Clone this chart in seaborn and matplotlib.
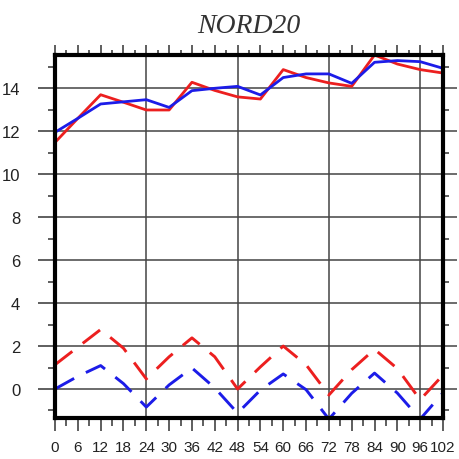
import numpy as np
import pandas as pd
import matplotlib
matplotlib.use("Agg")
import matplotlib.pyplot as plt
import seaborn as sns
from matplotlib.ticker import MultipleLocator

# forecast hours and the four series
hours = [0, 6, 12, 18, 24, 30, 36, 42, 48, 54, 60, 66, 72, 78, 84, 90, 96, 102]
red_solid = [11.48, 12.6, 13.70, 13.35, 12.99, 12.99, 14.28, 13.9, 13.6,
             13.5, 14.87, 14.5, 14.25, 14.09, 15.55, 15.13, 14.87, 14.71]
blue_solid = [11.95, 12.6, 13.27, 13.37, 13.47, 13.11, 13.89, 14.0, 14.09,
              13.69, 14.5, 14.67, 14.67, 14.23, 15.21, 15.29, 15.24, 14.93]
red_dash = [1.13, 1.95, 2.77, 1.9, 0.47, 1.5, 2.38, 1.5, 0.0,
            1.03, 2.0, 1.13, -0.28, 0.9, 1.85, 0.95, -0.5, 0.65]
blue_dash = [0.0, 0.59, 1.09, 0.25, -0.84, 0.19, 0.98, 0.05, -1.12,
             -0.05, 0.7, -0.03, -1.4, -0.2, 0.74, -0.19, -1.4, -0.18]

sns.set_style("white")
plt.rcParams['font.family'] = ['Liberation Sans', 'DejaVu Sans']

RED = '#ec1f1f'
BLUE = '#1c1ce8'
GRID = '#444444'

fig = plt.figure(figsize=(4.6, 4.6), dpi=100)
ax = fig.add_axes([55/460, 41/460, 388/460, 363/460])

dash = (0, (7.5, 4.5))
sns.lineplot(x=hours, y=red_solid, color=RED, lw=2.0, ax=ax)
sns.lineplot(x=hours, y=blue_solid, color=BLUE, lw=2.0, ax=ax)
sns.lineplot(x=hours, y=red_dash, color=RED, lw=2.1, linestyle=dash, ax=ax)
sns.lineplot(x=hours, y=blue_dash, color=BLUE, lw=2.1, linestyle=dash, ax=ax)

ax.set_xlim(0, 102)
ax.set_ylim(-1.35, 15.55)

# grid: horizontal every 2, vertical every 24
for yv in range(0, 16, 2):
    ax.axhline(yv, color=GRID, lw=1.1, zorder=0)
for xv in [24, 48, 72, 96]:
    ax.axvline(xv, color=GRID, lw=1.1, zorder=0)

for s in ax.spines.values():
    s.set_linewidth(3.0)
    s.set_color('black')
    s.set_visible(True)

ax.xaxis.set_major_locator(MultipleLocator(6))
ax.xaxis.set_minor_locator(MultipleLocator(3))
ax.yaxis.set_major_locator(MultipleLocator(2))
ax.yaxis.set_minor_locator(MultipleLocator(1))
ax.set_yticks(range(0, 16, 2))

ax.tick_params(axis='x', which='major', direction='out', length=9, width=1.1,
               color='#333333', pad=7, labelsize=11, labelcolor='#222222',
               bottom=True, top=False)
ax.tick_params(axis='x', which='minor', direction='out', length=6, width=1.1,
               color='#333333', bottom=True, top=False)
ax.tick_params(axis='y', which='major', direction='out', length=12, width=1.1,
               color='#333333', pad=13, labelsize=12, labelcolor='#222222',
               left=True, right=False)
ax.tick_params(axis='y', which='minor', direction='out', length=5, width=1.1,
               color='#333333', left=True, right=False)

# top and right ticks without labels
top = ax.secondary_xaxis('top')
top.xaxis.set_major_locator(MultipleLocator(6))
top.xaxis.set_minor_locator(MultipleLocator(3))
top.tick_params(which='major', direction='out', length=7, width=1.1,
                color='#333333', labeltop=False)
top.tick_params(which='minor', direction='out', length=3.5, width=1.1,
                color='#333333')
top.spines['top'].set_visible(False)

right = ax.secondary_yaxis('right')
right.yaxis.set_major_locator(MultipleLocator(2))
right.yaxis.set_minor_locator(MultipleLocator(1))
right.tick_params(which='major', direction='out', length=10, width=1.1,
                  color='#444444', labelright=False)
right.tick_params(which='minor', direction='out', length=4, width=1.1,
                  color='#333333')
right.spines['right'].set_visible(False)

ax.set_xlabel('')
ax.set_ylabel('')

fig.text(249/460, 1 - 33/460, 'NORD20', ha='center', va='baseline',
         fontsize=20, fontstyle='italic', family=['Liberation Serif'],
         color='#333333')

fig.savefig('out.png', dpi=100)
